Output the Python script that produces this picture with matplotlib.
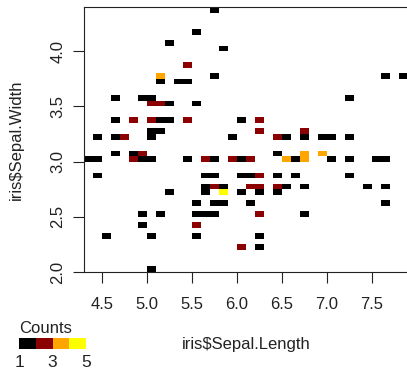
import numpy as np
import matplotlib.pyplot as plt
from matplotlib.colors import ListedColormap, BoundaryNorm

# lower-left corner of every occupied cell (length, width) and its count
cell_length = [
    5.7,
    5.5,
    5.2,
    5.8,
    5.4,
    5.1, 5.7, 7.6, 7.8,
    5.1, 5.3, 5.4,
    4.6, 4.9, 5.0, 7.2,
    5.0, 5.1, 5.2, 5.5,
    4.6, 4.8, 5.0, 5.1, 5.2, 5.4, 6.0, 6.2,
    5.0, 5.1, 6.2, 6.7,
    4.4, 4.6, 4.7, 5.0, 5.9, 6.4, 6.5, 6.7, 6.9, 7.0, 7.2,
    4.6, 4.8, 4.9, 6.4, 6.7, 6.9,
    4.3, 4.4, 4.8, 4.9, 5.0, 5.4, 5.6, 5.7, 5.9, 6.0, 6.1, 6.5, 6.6, 6.7, 7.0, 7.2, 7.5, 7.6,
    4.4, 5.6, 5.7, 6.0, 6.1, 6.2, 6.4, 6.6, 7.2,
    5.6, 5.7, 5.8, 6.1, 6.2, 6.4, 6.5, 6.7, 7.4, 7.6,
    5.2, 5.6, 5.8, 6.0, 6.2, 6.4,
    5.5, 5.7, 5.8, 6.1, 7.6,
    4.9, 5.1, 5.5, 5.6, 5.7, 6.2, 6.7,
    4.9, 5.5,
    4.5, 5.0, 5.5, 6.2,
    6.0, 6.2,
    5.0,
]
cell_width = (
    [4.35]
    + [4.15]
    + [4.05]
    + [4.00]
    + [3.85]
    + [3.75] * 4
    + [3.70] * 3
    + [3.55] * 4
    + [3.50] * 4
    + [3.35] * 8
    + [3.25] * 4
    + [3.20] * 11
    + [3.05] * 6
    + [3.00] * 18
    + [2.85] * 9
    + [2.75] * 10
    + [2.70] * 6
    + [2.60] * 5
    + [2.50] * 7
    + [2.40] * 2
    + [2.30] * 4
    + [2.20] * 2
    + [2.00]
)
cell_count = [
    1,
    1,
    1,
    1,
    2,
    3, 1, 1, 1,
    1, 1, 1,
    1, 1, 1, 1,
    2, 2, 1, 1,
    1, 2, 2, 1, 1, 2, 1, 2,
    1, 1, 2, 2,
    1, 1, 2, 1, 1, 2, 1, 1, 1, 1, 1,
    1, 1, 2, 1, 3, 3,
    1, 1, 2, 1, 1, 1, 2, 1, 2, 1, 2, 3, 1, 3, 1, 1, 1, 1,
    1, 1, 1, 1, 1, 2, 1, 1, 1,
    1, 2, 1, 2, 2, 2, 1, 1, 1, 1,
    1, 1, 4, 1, 1, 1,
    1, 1, 1, 1, 1,
    1, 1, 1, 1, 1, 2, 1,
    1, 2,
    1, 1, 1, 1,
    2, 1,
    1,
]

x_edges = np.linspace(4.3, 7.9, 37)
y_edges = np.linspace(2.0, 4.4, 49)

key_colors = ["#000000", "#8B0000", "#FFA500", "#FFFF00"]
key_breaks = [1, 2, 3, 4, 5]
key_ticks = [1, 3, 5]

x_ticks = [4.5, 5.0, 5.5, 6.0, 6.5, 7.0, 7.5]
y_ticks = [2.0, 2.5, 3.0, 3.5, 4.0]

cmap = ListedColormap(key_colors)
norm = BoundaryNorm(key_breaks, cmap.N)

counts, _, _ = np.histogram2d(
    np.array(cell_length) + 0.05,
    np.array(cell_width) + 0.025,
    bins=[x_edges, y_edges],
    weights=cell_count,
)
counts = np.ma.masked_equal(counts.T, 0)

plt.rcParams["font.family"] = "Liberation Sans"
plt.rcParams["font.size"] = 12

W, H = 407, 371
fig = plt.figure(figsize=(W / 100, H / 100), dpi=100)
ax = fig.add_axes([84 / W, 1 - 272 / H, 324 / W, 265 / H])
ax.pcolormesh(x_edges, y_edges, counts, cmap=cmap, norm=norm)
ax.set_xlim(4.3, 7.9)
ax.set_ylim(2.0, 4.4)

for side in ax.spines.values():
    side.set_linewidth(0.8)
    side.set_color("#222222")

ax.set_xticks(x_ticks, [f"{t:.1f}" for t in x_ticks])
ax.set_yticks(y_ticks, [f"{t:.1f}" for t in y_ticks])
ax.tick_params(length=7.9, width=0.8, color="#222222", labelcolor="#222222")
ax.tick_params(axis="x", pad=10.0)
ax.tick_params(axis="y", pad=5.6)
for lbl in ax.get_yticklabels():
    lbl.set_rotation(90)
    lbl.set_va("center")

fig.text(246 / W, 1 - 349.5 / H, "iris$Sepal.Length", ha="center", va="baseline", color="#222222")
fig.text(16 / W, 1 - 139.5 / H, "iris$Sepal.Width", ha="center", va="center", rotation=90, color="#222222")

# colour key in the lower left corner
kax = fig.add_axes([19 / W, 1 - 349.3 / H, 67 / W, 11.6 / H])
kax.pcolormesh(key_breaks, [0, 1], [key_breaks[:-1]], cmap=cmap, norm=norm)
kax.set_xlim(key_breaks[0], key_breaks[-1])
kax.set_ylim(0, 1)
kax.set_yticks([])
kax.set_xticks(key_ticks, [str(t) for t in key_ticks])
kax.tick_params(length=0, pad=4.0, labelcolor="#222222", labelsize=12.5)
for side in kax.spines.values():
    side.set_visible(False)
fig.text(19 / W, 1 - 333.3 / H, "Counts", ha="left", va="baseline", color="#222222")

fig.savefig("out.png", dpi=100)
